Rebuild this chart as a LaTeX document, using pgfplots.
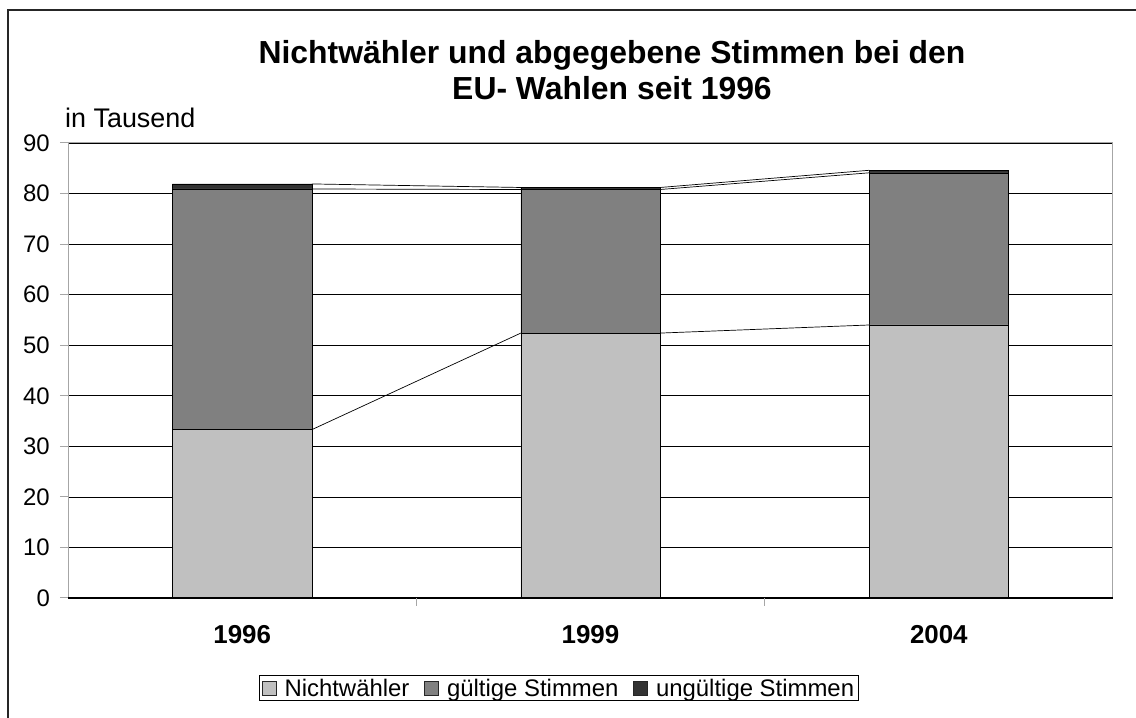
\documentclass[border=0pt]{standalone}
\usepackage{pgfplots}
\pgfplotsset{compat=1.18}
\usepackage{fontspec}
\setmainfont{Liberation Sans}
\definecolor{cNicht}{HTML}{C0C0C0}
\definecolor{cGuelt}{HTML}{808080}
\definecolor{cUngue}{HTML}{333333}

\begin{document}
\begin{tikzpicture}[x=1bp,y=1bp]
\useasboundingbox (0,0) rectangle (1136,718);
\draw[line width=1.5bp, black!85] (8,0) -- (8,708) -- (1136,708);
\node[font=\fontsize{32}{36}\selectfont\bfseries, align=center] at (612,648) {Nichtwähler und abgegebene Stimmen bei den\\EU- Wahlen seit 1996};
\node[font=\fontsize{27}{30}\selectfont, anchor=west, inner sep=0pt] at (65,600) {in Tausend};

\begin{axis}[
  at={(68bp,120bp)}, anchor=south west,
  scale only axis, width=1045bp, height=455bp,
  xmin=-0.5, xmax=2.5, ymin=0, ymax=90,
  ybar stacked, bar width=0.4,
  axis line style={draw=gray!70, line width=1bp},
  ymajorgrids, major grid style={black, line width=0.7bp},
  ytick={0,10,...,90},
  tick align=outside, xtick pos=bottom, ytick pos=left,
  major tick length=8bp,
  tick style={gray!70, line width=1bp},
  xtick={0.5,1.5}, xticklabels={,},
  extra x ticks={0,1,2},
  extra x tick labels={1996,1999,2004},
  extra x tick style={major tick length=0pt, grid=none,
     xticklabel style={font=\fontsize{26}{30}\selectfont\bfseries, inner sep=0pt, anchor=north, yshift=-27bp}},
  yticklabel style={font=\fontsize{24}{28}\selectfont, inner sep=0pt, anchor=east, xshift=-10bp},
  /pgf/number format/assume math mode=true,
  legend style={at={(0.4694,-0.198)}, anchor=center, draw=black, line width=0.8bp,
     legend columns=3, font=\fontsize{24}{28}\selectfont, inner xsep=3bp, inner ysep=2bp,
     nodes={inner sep=1bp},
     /tikz/every odd column/.style={column sep=7bp},
     /tikz/every even column/.style={column sep=14bp}},
  legend image code/.code={\draw[#1, draw=gray!30!black, line width=0.6bp] (0bp,-7bp) rectangle (14bp,7bp);},
]
\addplot[fill=cNicht, draw=black, line width=0.6bp] coordinates {(0,33.3) (1,52.4) (2,54.0)};
\addplot[fill=cGuelt, draw=black, line width=0.6bp] coordinates {(0,47.6) (1,28.4) (2,30.1)};
\addplot[fill=cUngue, draw=black, line width=0.6bp] coordinates {(0,1.0) (1,0.4) (2,0.5)};
\legend{Nichtwähler, gültige Stimmen, ungültige Stimmen}
\end{axis}

\begin{axis}[
  at={(68bp,120bp)}, anchor=south west,
  scale only axis, width=1045bp, height=455bp,
  xmin=-0.5, xmax=2.5, ymin=0, ymax=90,
  axis x line=bottom, axis y line=none,
  x axis line style={black, line width=1bp, -},
  xtick=\empty, ytick=\empty,
  unbounded coords=jump,
]
\addplot[black, line width=0.7bp] coordinates {(0.2,33.3) (0.8,52.4) (1,nan) (1.2,52.4) (1.8,54.0)};
\addplot[black, line width=0.7bp] coordinates {(0.2,80.9) (0.8,80.8) (1,nan) (1.2,80.8) (1.8,84.1)};
\addplot[black, line width=0.7bp] coordinates {(0.2,81.9) (0.8,81.2) (1,nan) (1.2,81.2) (1.8,84.6)};
\end{axis}
\end{tikzpicture}
\end{document}
